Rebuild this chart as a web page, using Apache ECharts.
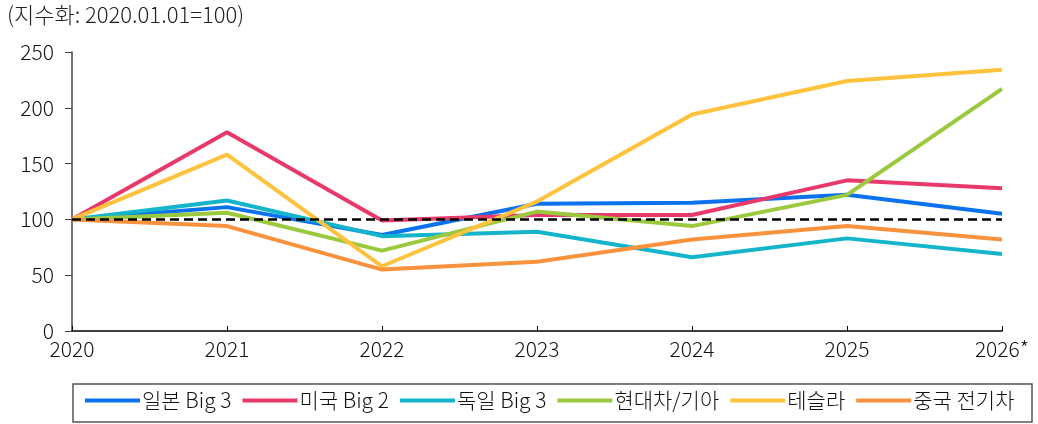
<!DOCTYPE html>
<html>
<head>
<meta charset="utf-8">
<script src="https://cdn.jsdelivr.net/npm/echarts@6/dist/echarts.min.js"></script>
<style>
html,body{margin:0;padding:0;background:#fff;}
#c{width:1038px;height:424px;}
</style>
</head>
<body>
<div id="c"></div>
<script>
const categories = ['2020','2021','2022','2023','2024','2025','2026*'];
const japanBig3 = [100, 111, 86, 114, 115, 122, 105];
const usBig2 = [100, 178, 99, 104, 104, 135, 128];
const germanyBig3 = [100, 117, 85, 89, 66, 83, 69];
const hyundaiKia = [100, 106, 72, 107, 94, 122, 217];
const tesla = [100, 158, 58, 116, 194, 224, 234];
const chinaEV = [100, 94, 55, 62, 82, 94, 82];
const yTicks = [0, 50, 100, 150, 200, 250];
const baseline = 100;
const unitLabel = '(지수화: 2020.01.01=100)';

const FONT = "'Noto Sans CJK KR', 'Noto Sans', sans-serif";
const W = 300;
const seriesDefs = [
  ['일본 Big 3', japanBig3, '#0B72EE'],
  ['미국 Big 2', usBig2, '#E83A6A'],
  ['독일 Big 3', germanyBig3, '#14B4CB'],
  ['현대차/기아', hyundaiKia, '#9BC93E'],
  ['테슬라', tesla, '#FFC23D'],
  ['중국 전기차', chinaEV, '#F9923C']
];

const series = seriesDefs.map(([name, data, color]) => ({
  name, type: 'line', data, symbol: 'none', smooth: false,
  lineStyle: {width: 4, color}, itemStyle: {color},
  emphasis: {disabled: true}
}));
series.push({
  name: 'baseline', type: 'line', data: [], z: 10,
  markLine: {
    silent: true, symbol: 'none', label: {show: false},
    lineStyle: {color: '#000', type: [9, 5], width: 2.5},
    data: [{yAxis: baseline}]
  }
});

const chart = echarts.init(document.getElementById('c'), null, {renderer: 'canvas'});
chart.setOption({
  animation: false,
  backgroundColor: '#fff',
  textStyle: {fontFamily: FONT, fontWeight: W},
  grid: {left: 72, right: 36, top: 52, bottom: 93, containLabel: false},
  graphic: [
    {type: 'text', left: 7, top: 4, style: {text: unitLabel, fontSize: 22, fill: '#222', fontFamily: FONT, fontWeight: W}},
    {type: 'rect', shape: {x: 73, y: 384, width: 959, height: 38}, style: {fill: 'none', stroke: '#555', lineWidth: 1.5}}
  ],
  legend: {
    left: 85, top: 390,
    data: seriesDefs.map(s => s[0]),
    icon: 'rect', itemWidth: 55, itemHeight: 4, itemGap: 11,
    textStyle: {fontSize: 21, color: '#111', fontFamily: FONT, fontWeight: W, padding: [0, 0, 0, -3]},
    padding: 0
  },
  xAxis: {
    type: 'category', data: categories, boundaryGap: false,
    axisLine: {lineStyle: {color: '#000', width: 1.5}},
    axisTick: {inside: true, length: 5, lineStyle: {color: '#000'}},
    axisLabel: {fontSize: 21, color: '#111', margin: 8, fontFamily: FONT, fontWeight: W},
    splitLine: {show: false}
  },
  yAxis: {
    type: 'value', min: yTicks[0], max: yTicks[yTicks.length - 1], interval: 50,
    axisLine: {show: true, lineStyle: {color: '#444', width: 1.5}},
    axisTick: {show: true, length: 7, lineStyle: {color: '#444'}},
    axisLabel: {fontSize: 21, color: '#111', margin: 18, fontFamily: FONT, fontWeight: W},
    splitLine: {show: false}
  },
  series
});
</script>
</body>
</html>
